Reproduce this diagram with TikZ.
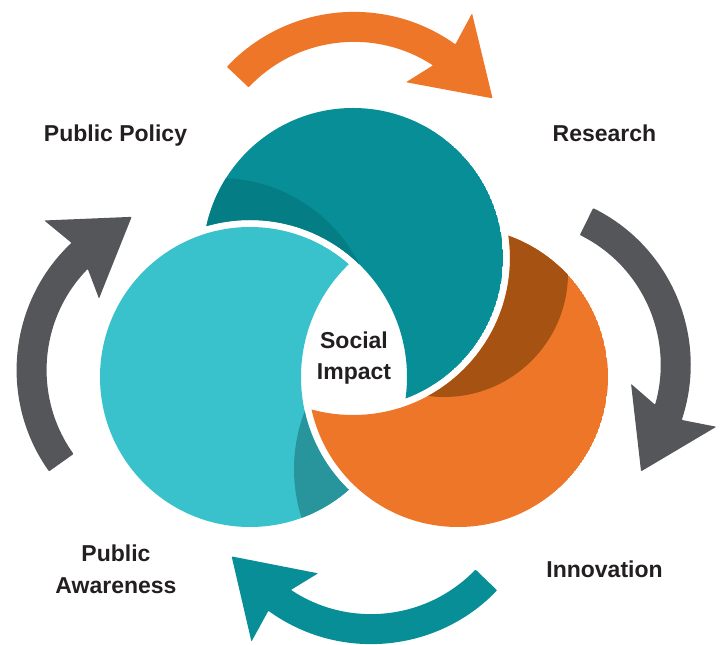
\documentclass[tikz,border=0pt]{standalone}
\usepackage{fontspec}
\setmainfont{Liberation Sans}
\usetikzlibrary{calc}
\definecolor{tealc}{HTML}{078E97}
\definecolor{tealdark}{HTML}{047D85}
\definecolor{lightc}{HTML}{3AC2CC}
\definecolor{lightdark}{HTML}{28949C}
\definecolor{orangec}{HTML}{EE7628}
\definecolor{orangedark}{HTML}{A65212}
\definecolor{grayc}{HTML}{55565A}
\definecolor{inkc}{HTML}{231F20}
\newcommand\cyclearrow[3]{%
  \fill[#3, rounded corners=0.8pt]
    ($(#1)+({#2+82}:175)$) arc[start angle={#2+82}, end angle={#2}, radius=175]
    -- ($(#1)+({#2+1.2}:210)$)
    -- ($(#1)+({#2-22}:164.5)$)
    -- ($(#1)+({#2+9}:117)$)
    -- ($(#1)+({#2+2.4}:145)$)
    arc[start angle={#2+2.4}, end angle={#2+82}, radius=145] -- cycle;}
\begin{document}
\begin{tikzpicture}[x=1pt,y=1pt,
  lbl/.style={text=inkc, font=\fontsize{23}{31.6}\selectfont\bfseries, align=center, inner sep=0pt}]
\useasboundingbox (0,0) rectangle (723,645);
\coordinate (cT) at (353,387);
\coordinate (cL) at (250,268);
\coordinate (cO) at (458,268);
\def\R{150}
\def\H{157}
% orange circle (under teal)
\begin{scope}[even odd rule]
  \clip (cO) circle (\R);
  \clip (0,0) -- (0,645) -- (723,645) -- (723,0) -- cycle (cT) circle (\H);
  \fill[orangec] (cO) circle (\R);
  \fill[orangedark] (444,372) circle (124);
\end{scope}
% teal circle (under light blue)
\begin{scope}[even odd rule]
  \clip (cT) circle (\R);
  \clip (0,0) -- (0,645) -- (723,645) -- (723,0) -- cycle (cL) circle (\H);
  \fill[tealc] (cT) circle (\R);
  \fill[tealdark] (219,310) circle (157);
\end{scope}
% light blue circle (under orange)
\begin{scope}[even odd rule]
  \clip (cL) circle (\R);
  \clip (0,0) -- (0,645) -- (723,645) -- (723,0) -- cycle (cO) circle (\H);
  \fill[lightc] (cL) circle (\R);
  \fill[lightdark] (454,176) circle (160);
\end{scope}
% cycle arrows
\coordinate (aTop) at (354,458);
\coordinate (aRight) at (515.6,280);
\coordinate (aBottom) at (371,176);
\coordinate (aLeft) at (191.7,275);
\cyclearrow{aTop}{54.6}{orangec}
\cyclearrow{aRight}{-18.3}{grayc}
\cyclearrow{aBottom}{-125.9}{tealc}
\cyclearrow{aLeft}{133.4}{grayc}
% labels
\node[lbl, anchor=base] (policy) at (115.5,503.3) {Public Policy};
\node[lbl, anchor=base] (research) at (604.5,503.3) {Research};
\node[lbl, anchor=base] (innovation) at (604.5,67) {Innovation};
\node[lbl] (awareness) at (116,75.5) {Public\\Awareness};
\node[lbl] (impact) at (354,287) {Social\\Impact};
\end{tikzpicture}
\end{document}
